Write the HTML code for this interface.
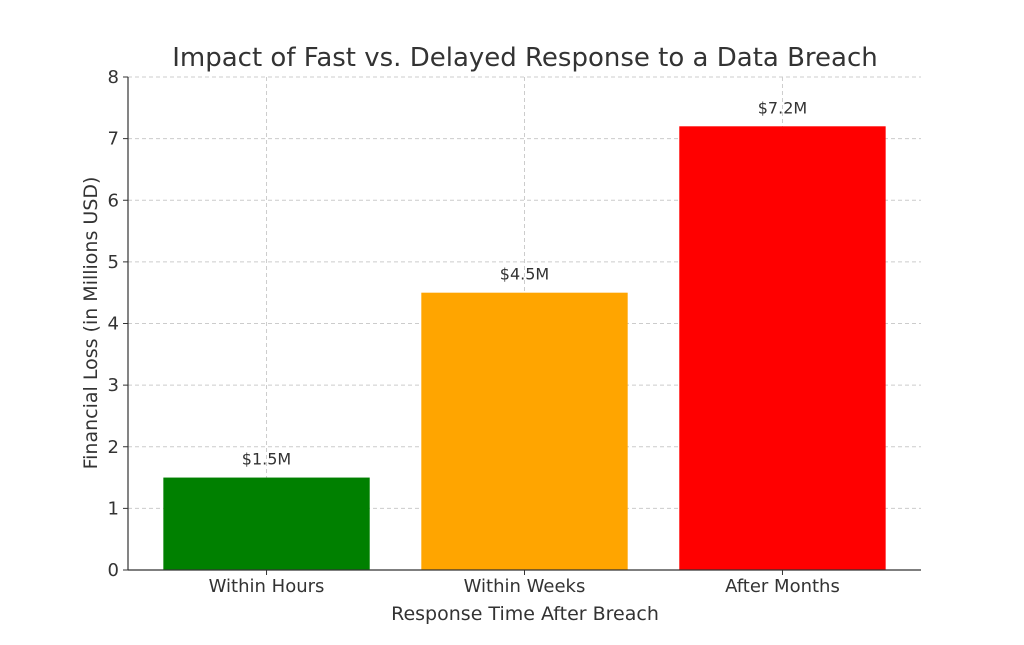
<!DOCTYPE html>
<html><head><meta charset="utf-8"><style>
body{margin:0;background:#fff;}
svg text{font-family:"DejaVu Sans","Liberation Sans",sans-serif;}
</style></head><body>
<svg id="chart" width="1024" height="640" viewBox="0 0 1024 640" xmlns="http://www.w3.org/2000/svg">
<text x="525" y="66" text-anchor="middle" font-size="26" fill="#333">Impact of Fast vs. Delayed Response to a Data Breach</text>
<g id="grid"></g>
<g id="bars"></g>
<g id="axes"></g>
<text x="525" y="620" text-anchor="middle" font-size="19" fill="#333">Response Time After Breach</text>
<text transform="translate(97,323) rotate(-90)" text-anchor="middle" font-size="19" fill="#333">Financial Loss (in Millions USD)</text>
</svg>
<script>
const categories = ["Within Hours","Within Weeks","After Months"];
const values = [1.5, 4.5, 7.2];
const valueLabels = ["$1.5M","$4.5M","$7.2M"];
const colors = ["green","orange","red"];
const yTicks = [0,1,2,3,4,5,6,7,8];

const L=128,R=921,T=77,B=570;
const xMin=-0.537,xMax=2.537,yMax=8;
const xs=v=>L+(v-xMin)/(xMax-xMin)*(R-L);
const ys=v=>B-v/yMax*(B-T);
const ns="http://www.w3.org/2000/svg";
function mk(tag,attrs,parent){const e=document.createElementNS(ns,tag);for(const k in attrs)e.setAttribute(k,attrs[k]);parent.appendChild(e);return e;}
const grid=document.getElementById('grid'),bars=document.getElementById('bars'),axes=document.getElementById('axes');
yTicks.forEach(t=>{
  const y=ys(t);
  const g=mk('line',{x1:L,x2:R,y1:y,y2:y,stroke:'#ccc','stroke-dasharray':'4,3','stroke-width':1},grid);
  
  
  const tk=mk('line',{x1:L-5,x2:L,y1:y,y2:y,stroke:'#333'},axes);
  
  
  const tx=mk('text',{x:L-9,y:y+6,'text-anchor':'end','font-size':18,fill:'#333'},axes);
  tx.textContent=t;
  
  
});
categories.forEach((c,i)=>{
  const x=xs(i);
  const g=mk('line',{x1:x,x2:x,y1:T,y2:B,stroke:'#ccc','stroke-dasharray':'4,3'},grid);
  
  
  const w=xs(0.4)-xs(-0.4);
  const b=mk('rect',{x:x-w/2,y:ys(values[i]),width:w,height:B-ys(values[i]),fill:colors[i]},bars);
  
  
  const v=mk('text',{x:x,y:ys(values[i])-13,'text-anchor':'middle','font-size':16,fill:'#333'},bars);
  v.textContent=valueLabels[i];
  
  
  const tk=mk('line',{x1:x,x2:x,y1:B,y2:B+5,stroke:'#333'},axes);
  
  
  const tx=mk('text',{x:x,y:B+22,'text-anchor':'middle','font-size':18,fill:'#333'},axes);
  tx.textContent=c;
  
  
});
const ly=mk('line',{x1:L,x2:L,y1:T,y2:B,stroke:'#333','stroke-width':1.2},axes);


const lx=mk('line',{x1:L,x2:R,y1:B,y2:B,stroke:'#333','stroke-width':1.2},axes);


</script>
</body></html>
